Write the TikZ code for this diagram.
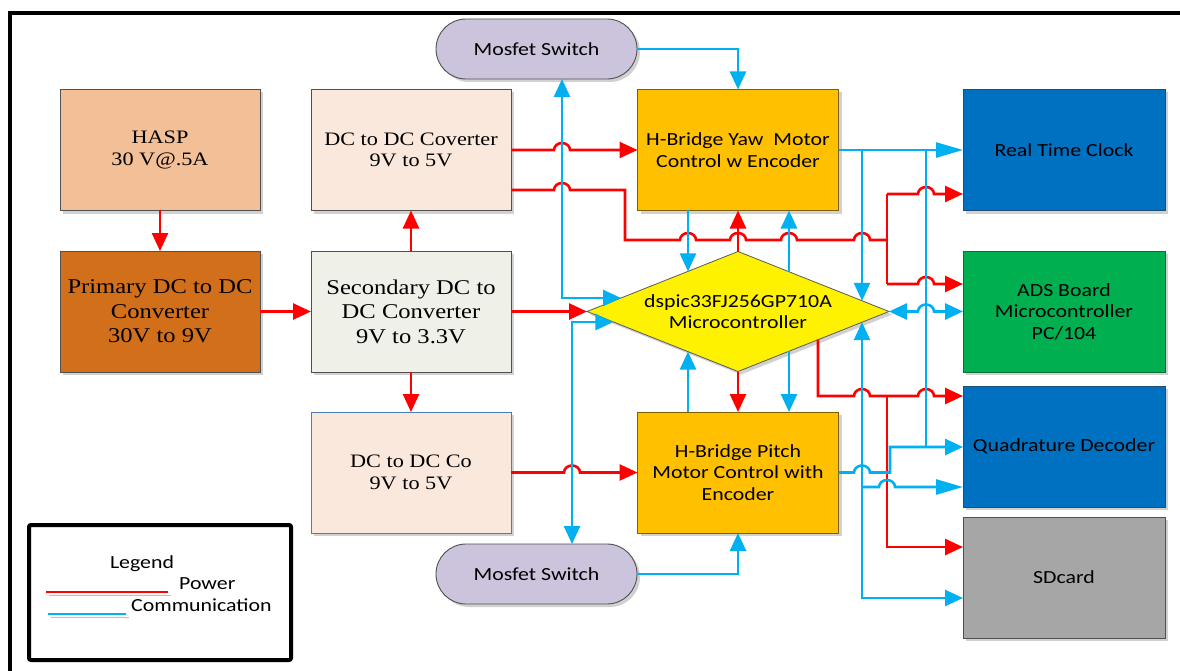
\documentclass[tikz,border=0pt]{standalone}
\usepackage{fontspec}
\setmainfont{Liberation Serif}[FakeStretch=1.17]
\newfontfamily\calfont{Carlito}[FakeStretch=1.18]
\usetikzlibrary{arrows.meta,shapes.geometric,shapes.misc,shadows,calc}
\definecolor{pwr}{HTML}{FF0000}
\definecolor{com}{HTML}{00B0F0}
\definecolor{haspC}{HTML}{F2BF97}
\definecolor{primC}{HTML}{D26F1A}
\definecolor{dcC}{HTML}{FBE8DC}
\definecolor{secC}{HTML}{EFF1E8}
\definecolor{mosC}{HTML}{CCC3DC}
\definecolor{orC}{HTML}{FFC000}
\definecolor{rtcC}{HTML}{0070C0}
\definecolor{adsC}{HTML}{00B050}
\definecolor{sdC}{HTML}{A6A6A6}
\definecolor{bdr}{HTML}{505050}
\definecolor{bdrO}{HTML}{7F6000}
\definecolor{bdrB}{HTML}{1F4E79}
\definecolor{bdrG}{HTML}{0B6B3A}
\definecolor{bdrL}{HTML}{4A7EBB}
\newcommand{\sansf}{\calfont\fontsize{18.5}{21.5}\selectfont}
\newcommand{\serA}{\fontsize{19}{21.5}\selectfont}
\newcommand{\serB}{\fontsize{21}{24.5}\selectfont}
\newcommand{\hp}[2]{-- (#1-8,#2) arc[start angle=180,end angle=360,x radius=8,y radius=7]}
\tikzset{
  shd/.style={drop shadow={shadow xshift=3pt,shadow yshift=-3pt,fill=black!18,opacity=1}},
  rbox/.style={rectangle, minimum width=200pt, minimum height=121pt, inner sep=0pt, outer sep=0pt, align=center, line width=0.9pt, shd},
  sbox/.style={rbox, minimum width=202pt, font=\sansf},
  mos/.style={rounded rectangle, minimum width=201pt, minimum height=60pt, inner sep=0pt, outer sep=0pt, fill=mosC, draw=bdr, line width=0.9pt, shd, font=\sansf},
  pwrline/.style={draw=pwr, line width=2.6pt},
  comline/.style={draw=com, line width=2.6pt},
  lng/.style={-{Triangle[length=27pt,width=15pt]}},
}
\begin{document}
\begin{tikzpicture}[x=1pt,y=-1pt,>={Triangle[length=18pt,width=16pt]}]
\useasboundingbox (0,0) rectangle (1180,671);
\clip (0,0) rectangle (1180,671);
\fill[white] (0,0) rectangle (1180,671);
% frame
\draw[line width=4pt] (9.5,690) -- (9.5,13) -- (1195,13);

% nodes
\node[rbox, fill=haspC, draw=bdr, font=\serA] (hasp) at (160,150) {HASP\\30 V@.5A};
\node[rbox, fill=primC, draw=bdr, font=\serB] (prim) at (160,311.5) {Primary DC to DC\\Converter\\30V to 9V};
\node[rbox, fill=dcC, draw=bdr, font=\serA] (dctop) at (411,150) {DC to DC Coverter\\9V to 5V};
\node[rbox, fill=secC, draw=bdr, font=\serB] (sec) at (411,311.5) {Secondary DC to\\DC Converter\\9V to 3.3V};
\node[rbox, fill=dcC, draw=bdrL, font=\serA] (dcbot) at (411,472.5) {DC to DC Co\\9V to 5V};
\node[mos] (mosT) at (536.5,49) {Mosfet Switch};
\node[mos] (mosB) at (536.5,574) {Mosfet Switch};
\node[sbox, minimum width=201pt, fill=orC, draw=bdrO] (yaw) at (738,150) {H-Bridge Yaw\ \ Motor\\Control w Encoder};
\node[sbox, minimum width=201pt, fill=orC, draw=bdrO] (pitch) at (738,472.5) {H-Bridge Pitch\\Motor Control with\\Encoder};
\node[diamond, aspect=2.5167, minimum width=302pt, minimum height=120pt, inner sep=0pt, outer sep=0pt, fill=yellow, draw=black!65, line width=0.8pt, shd, font=\sansf, align=center] (mcu) at (738,311.5) {dspic33FJ256GP710A\\Microcontroller};
\node[sbox, fill=rtcC, draw=bdrB] (rtc) at (1064,150) {Real Time Clock};
\node[sbox, fill=adsC, draw=bdrG] (ads) at (1064,311.5) {ADS Board\\Microcontroller\\PC/104};
\node[sbox, fill=rtcC, draw=bdrB] (quad) at (1064,446.5) {Quadrature Decoder};
\node[sbox, fill=sdC, draw=bdr] (sd) at (1064,577.5) {SDcard};

% power connectors
\draw[pwrline,->] (hasp.south) -- (prim.north);
\draw[pwrline,->] (prim.east) -- (sec.west);
\draw[pwrline,->] (sec.north) -- (dctop.south);
\draw[pwrline,->] (sec.south) -- (dcbot.north);
\draw[pwrline,->] (sec.east) -- (mcu.west);
\draw[pwrline,->] (dctop.east) \hp{562}{150} -- (yaw.west);
\draw[pwrline] ($(dctop.east)+(0,40)$) \hp{562}{190} -- (625,190) -- (625,240) \hp{688}{240} \hp{738}{240} \hp{789}{240} \hp{862}{240} -- (887,240);
\draw[pwrline] (887,194) -- (887,284);
\draw[pwrline,->] (887,194) \hp{926}{194} -- (rtc.west |- 0,194);
\draw[pwrline,->] (887,284) \hp{926}{284} -- (ads.west |- 0,284);
\draw[pwrline,->] (mcu.north) -- (yaw.south);
\draw[pwrline,->] (mcu.south) -- (pitch.north);
\draw[pwrline,->] ($(mcu.center)+(80,28.2)$) -- (818,396) \hp{862}{396} \hp{926}{396} -- (quad.west |- 0,396);
\draw[pwrline,->] (887,396) -- (887,547) -- (sd.west |- 0,547);
\draw[pwrline,->] (dcbot.east) \hp{572}{472.5} -- (pitch.west);

% communication connectors
\draw[comline,->] (mosT.east) -| (yaw.north);
\draw[comline,<->] (562,0 |- mosT.south) -- (562,298) -- ($(mcu.center)+(-117,-13.5)$);
\draw[comline,<->] (572,0 |- mosB.north) -- (572,322) -- ($(mcu.center)+(-124.6,10.5)$);
\draw[comline,->] (mosB.east) -| (pitch.south);
\draw[comline,->] (688,0 |- yaw.south) -- ($(mcu.center)+(-50,-40.1)$);
\draw[comline,->] ($(mcu.center)+(51,-39.7)$) -- (789,0 |- yaw.south);
\draw[comline,->] (688,0 |- pitch.north) -- ($(mcu.center)+(-50,40.1)$);
\draw[comline,->] ($(mcu.center)+(51,39.7)$) -- (789,0 |- pitch.north);
\draw[comline,lng] (yaw.east) -- (rtc.west);
\draw[comline,->] (862,150) -- ($(mcu.center)+(124,-10.7)$);
\draw[comline] (926,150) -- (926,447);
\draw[comline,->] (pitch.east) \hp{862}{472.5} -- (890,472.5) -- (890,447) -- (quad.west |- 0,447);
\draw[comline,<->] ($(mcu.center)+(124,10.7)$) -- (862,598) -- (sd.west |- 0,598);
\draw[comline,lng] (862,487) \hp{887}{487} -- (quad.west |- 0,487);
\draw[comline,<->] (mcu.east) \hp{926}{311.5} -- (ads.west);

% legend
\node[draw, line width=4pt, rounded corners=2pt, minimum width=262pt, minimum height=135pt, inner sep=0pt] (leg) at (160,592.5) {};
\draw[black!25, line width=1.2pt] (49,595.5) -- (171,595.5);
\draw[pwr, line width=1.2pt] (46,592) -- (168,592);
\draw[black!25, line width=1.2pt] (51,617.5) -- (129,617.5);
\draw[com, line width=1.2pt] (48,614) -- (126,614);
\node[anchor=base, inner sep=0pt, font=\sansf] (legt) at (142,568) {Legend};
\node[anchor=base west, inner sep=0pt, font=\sansf] (legp) at (179,589) {Power};
\node[anchor=base west, inner sep=0pt, font=\sansf] (legc) at (131,611) {Communication};
\end{tikzpicture}
\end{document}
